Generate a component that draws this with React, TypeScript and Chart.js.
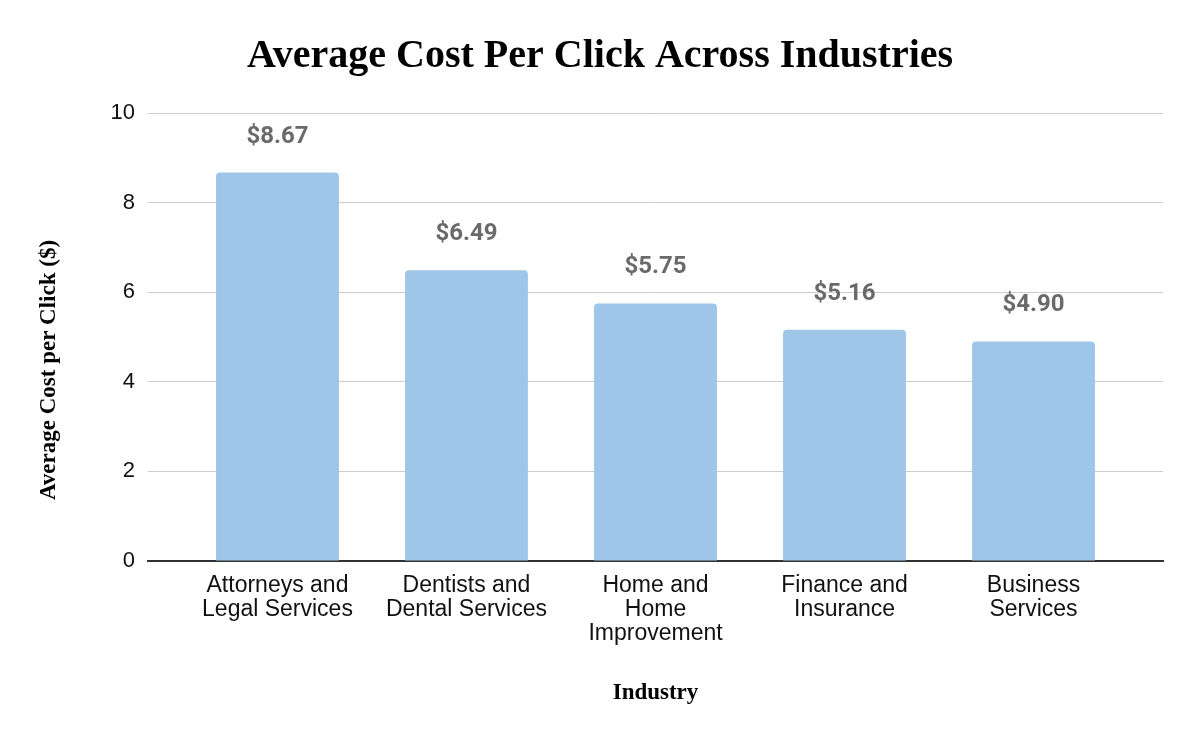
import React, { useEffect, useRef } from "react";
import { Chart, registerables } from "chart.js";

Chart.register(...registerables);

const TITLE = "Average Cost Per Click Across Industries";
const X_TITLE = "Industry";
const Y_TITLE = "Average Cost per Click ($)";
const CATEGORIES: string[][] = [
  ["Attorneys and", "Legal Services"],
  ["Dentists and", "Dental Services"],
  ["Home and", "Home", "Improvement"],
  ["Finance and", "Insurance"],
  ["Business", "Services"],
];
const VALUES: number[] = [8.67, 6.49, 5.75, 5.16, 4.9];
const Y_TICKS: number[] = [0, 2, 4, 6, 8, 10];

const W = 1200;
const H = 742;

export default function App() {
  const ref = useRef<HTMLCanvasElement | null>(null);

  useEffect(() => {
    if (!ref.current) return;
    const textPlugin = {
      id: "texts",
      afterDatasetsDraw(chart: any) {
        const ctx = chart.ctx;
        const meta = chart.getDatasetMeta(0);
        ctx.save();
        ctx.fillStyle = "#6a6a6a";
        ctx.font = "bold 24px Roboto, 'Liberation Sans', sans-serif";
        ctx.textAlign = "center";
        ctx.textBaseline = "alphabetic";
        meta.data.forEach((el: any, i: number) => {
          ctx.fillText("$" + VALUES[i].toFixed(2), el.x, el.y - 30);
        });
        ctx.restore();
      },
      afterDraw(chart: any) {
        const ctx = chart.ctx;
        const xs = chart.scales.x;
        ctx.save();
        ctx.fillStyle = "#000";
        ctx.textAlign = "center";
        ctx.textBaseline = "alphabetic";
        ctx.font = "bold 40px 'Liberation Serif', 'Times New Roman', serif";
        ctx.fillText(TITLE, 600, 67);
        ctx.font = "bold 23px 'Liberation Serif', 'Times New Roman', serif";
        const cx = (xs.getPixelForValue(0) + xs.getPixelForValue(VALUES.length - 1)) / 2;
        ctx.fillText(X_TITLE, cx, 699);
        ctx.translate(49, 370);
        ctx.rotate(-Math.PI / 2);
        ctx.textBaseline = "middle";
        ctx.font = "bold 23px 'Liberation Serif', 'Times New Roman', serif";
        ctx.fillText(Y_TITLE, 0, 0);
        ctx.restore();
      },
    };

    const chart = new Chart(ref.current, {
      type: "bar",
      data: {
        datasets: [
          {
            data: VALUES.map((v, i) => ({ x: i, y: v })),
            backgroundColor: "#9fc5e8",
            borderRadius: { topLeft: 4, topRight: 4, bottomLeft: 0, bottomRight: 0 },
            borderSkipped: "bottom",
            barPercentage: 0.65,
            categoryPercentage: 1,
          } as any,
        ],
      },
      options: {
        animation: false,
        responsive: false,
        maintainAspectRatio: false,
        layout: { padding: { left: 0, right: 37, top: 113, bottom: 0 } },
        plugins: {
          legend: { display: false },
          tooltip: { enabled: false },
          title: { display: false },
        },
        scales: {
          x: {
            type: "linear",
            min: -0.685,
            max: VALUES.length - 1 + 0.685,
            offset: false,
            afterBuildTicks(scale: any) {
              scale.ticks = CATEGORIES.map((_, i) => ({ value: i }));
            },
            afterFit(scale: any) {
              scale.height = H - 561;
            },
            ticks: {
              autoSkip: false,
              maxRotation: 0,
              minRotation: 0,
              includeBounds: false,
              padding: 13,
              color: "#111",
              font: { family: "'Liberation Sans', Arial, sans-serif", size: 23, lineHeight: "24px" },
              callback: (v: any) => {
                const i = Math.round(Number(v));
                return CATEGORIES[i] ? CATEGORIES[i] : "";
              },
            },
            grid: { display: false, drawTicks: false },
            border: { display: true, color: "#333", width: 2 },
          } as any,
          y: {
            min: 0,
            max: 10,
            afterBuildTicks(scale: any) {
              scale.ticks = Y_TICKS.map((v) => ({ value: v }));
            },
            afterFit(scale: any) {
              scale.width = 148;
            },
            ticks: {
              padding: 13,
              color: "#111",
              font: { family: "'Liberation Sans', Arial, sans-serif", size: 22 },
            },
            grid: {
              drawTicks: false,
              color: (c: any) => (c.tick && c.tick.value === 0 ? "rgba(0,0,0,0)" : "#cccccc"),
              lineWidth: 1,
            },
            border: { display: false },
          } as any,
        },
      },
      plugins: [textPlugin],
    });
    return () => chart.destroy();
  }, []);

  return (
    <div style={{ position: "fixed", left: 0, top: 0, width: W, height: H, background: "#fff" }}>
      <canvas ref={ref} width={W} height={H} style={{ display: "block", width: W, height: H }} />
    </div>
  );
}
